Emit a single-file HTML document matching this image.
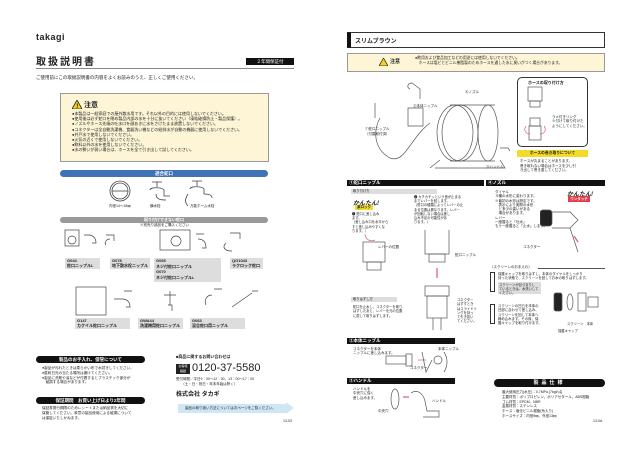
<!DOCTYPE html>
<html><head><meta charset="utf-8"><style>
*{margin:0;padding:0;box-sizing:border-box}
body{width:640px;height:452px;background:#fff;position:relative;overflow:hidden;font-family:"Liberation Sans","Noto Sans CJK JP",sans-serif;color:#222}
.a{position:absolute;white-space:nowrap}
.t{font-size:4.5px;line-height:5.6px}
.bar{position:absolute;color:#fff;font-size:4.5px;font-weight:bold;text-align:center;line-height:7px;white-space:nowrap;overflow:hidden}
.gl{position:absolute;background:#ddd;font-size:4px;line-height:5px;padding:0 2px;font-weight:bold;white-space:nowrap;overflow:hidden}
</style></head><body>
<!-- LEFT PAGE -->
<div class="a" style="left:36px;top:32px;font-size:9px;font-weight:bold;letter-spacing:0.5px">takagi</div>
<div class="a" style="left:36px;top:53px;font-size:10px;font-weight:bold;letter-spacing:2px">取扱説明書</div>
<div class="a" style="left:246px;top:58px;width:48px;height:7px;background:#111;color:#fff;font-size:4.5px;text-align:center;line-height:7px">２年間保証付</div>
<div class="a" style="left:36px;top:68px;width:258px;height:1px;background:#888"></div>
<div class="a t" style="left:36px;top:75px">ご使用前にこの取扱説明書の内容をよくお読みのうえ、正しくご使用ください。</div>
<div class="a" style="left:60px;top:93px;width:209px;height:69px;background:#fdf5d6;border:1px solid #999"></div>
<svg class="a" style="left:72px;top:100px" width="10" height="9"><polygon points="5,0 10,9 0,9" fill="#f5d020" stroke="#222" stroke-width=".8"/><text x="4.2" y="8" font-size="6" font-weight="bold">!</text></svg>
<div class="a" style="left:84px;top:100px;font-size:7px;font-weight:bold">注意</div>
<div class="a t" style="left:72px;top:111px;font-size:4px;line-height:5.2px">●本製品は一般家庭での屋外散水用です。それ以外の目的には使用しないでください。<br>●使用後は必ず蛇口を閉め製品内部の水を十分に抜いてください（凍結破損防止・製品保護）。<br>●ノズルやホース先端の吐水口を顔あきに水をさけたまま放置しないでください。<br>●コネクターは全自動洗濯機、食器洗い機などの給排水が自動の機器に使用しないでください。<br>●井戸水で使用しないでください。<br>●火気の近くで使用しないでください。<br>●飲料以外の水を使用しないでください。<br>●水の勢いが弱い場合は、ホースを全て引き出して試してください。</div>
<div class="bar" style="left:60px;top:170px;width:208px;height:7px;background:#3e73b8;border-radius:4px">適合蛇口</div>
<svg class="a" style="left:100px;top:178px" width="130" height="32" fill="none" stroke="#444" stroke-width=".8">
<circle cx="20" cy="13" r="10"/><circle cx="20" cy="13" r="8"/><line x1="12" y1="13" x2="28" y2="13"/>
<path d="M52 4h10M57 4v5M50 12c0-3 12-3 14 0v6h6M56 16c0 6 6 6 10 6"/>
<path d="M92 3h10M97 3v5M90 11c0-3 12-3 14 0v5c4 0 8 1 8 4M88 16c-4 6-2 10 0 12"/>
</svg>
<div class="a t" style="left:109px;top:204px;font-size:3.5px">内径14〜18㎜</div>
<div class="a t" style="left:150px;top:204px;font-size:3.5px">横水栓</div>
<div class="a t" style="left:190px;top:204px;font-size:3.5px">万能ホーム水栓</div>
<div class="bar" style="left:60px;top:217px;width:208px;height:6px;background:#999;border-radius:3px;line-height:6px;font-size:4px">取り付けできない蛇口</div>
<div class="a t" style="left:140px;top:223px;font-size:3.5px">※別売り部品をご購入ください</div>
<svg class="a" style="left:64px;top:229px" width="200" height="100" fill="none" stroke="#444" stroke-width=".7">
<rect x="1" y="1" width="14" height="16"/><circle cx="8" cy="11" r="4"/>
<path d="M20 6h6M24 6c6 0 8 4 8 8h-4"/><path d="M42 6h8v6M46 10c-4 0-6 4-4 6"/>
<rect x="96" y="1" width="30" height="20"/><circle cx="112" cy="12" r="5"/><path d="M132 5h8M134 10c6 0 8 4 8 9h-4"/>
<path d="M162 14c-4 4-2 8 6 8M166 4h10v6"/>
<rect x="12" y="58" width="30" height="28"/><path d="M50 70h8c6 0 8 4 8 8h-4M60 62h8"/>
<path d="M106 62v14M100 66h12M104 76h4v6"/>
<path d="M148 66c-6 0-8 6-6 10M150 60h8M168 78l20-14M188 62h6"/>
</svg>
<div class="gl" style="left:65px;top:258px;width:35px;height:11px">G044<br>蛇口ニップルL</div>
<div class="gl" style="left:110px;top:258px;width:40px;height:11px">G078<br>地下散水栓ニップル</div>
<div class="gl" style="left:154px;top:258px;width:67px;height:24px;line-height:5.6px">G065<br>ネジ付蛇口ニップル<br>G070<br>ネジ付蛇口ニップルL</div>
<div class="gl" style="left:230px;top:258px;width:33px;height:11px">QG1043<br>ラクロック蛇口</div>
<div class="gl" style="left:75px;top:318px;width:55px;height:11px">G147<br>カクイル蛇口ニップル</div>
<div class="gl" style="left:138px;top:318px;width:45px;height:11px">GWA44<br>洗濯機用蛇口ニップル</div>
<div class="gl" style="left:190px;top:318px;width:55px;height:11px">G063<br>混合蛇口用ニップル</div>
<div class="bar" style="left:36px;top:356px;width:109px;height:7px;background:#111;border-radius:4px">製品のお手入れ、保管について</div>
<div class="a t" style="left:42px;top:366px;font-size:3.6px;line-height:4.8px">●製品が汚れたときは柔らかい布で水拭きしてください。<br>●直射日光の当たる場所は避けてください。<br>●製品に洗剤や油などが付着するとプラスチック部分が<br>　破損する場合があります。</div>
<div class="bar" style="left:36px;top:397px;width:109px;height:7px;background:#111;border-radius:4px">保証期間　お買い上げ日より2年間</div>
<div class="a t" style="left:42px;top:406px;font-size:3.6px;line-height:4.8px">保証書発行期限のためレシートまたは納品書を大切に<br>保管してください。故意の製品使用による破損について<br>は保証いたしかねます。</div>
<div class="a t" style="left:176px;top:354px;font-weight:bold;font-size:4px">■商品に関するお問い合わせは</div>
<div class="a" style="left:176px;top:364px;width:14px;height:10px;background:#222;color:#fff;font-size:3px;line-height:5px;text-align:center">お客様<br>相談</div>
<div class="a" style="left:192px;top:362px;font-size:11px;line-height:13px">0120-37-5580</div>
<div class="a t" style="left:176px;top:377px;font-size:3.5px;line-height:4.5px">受付時間／平日9：00〜12：00、13：00〜17：00<br>　　（土・日・祝日・年末年始は除く）</div>
<div class="a" style="left:176px;top:389px;font-size:6px;font-weight:bold">株式会社 タカギ</div>
<div class="a" style="left:178px;top:404px;width:108px;height:9px;background:#cfe7f5"></div>
<div class="a" style="left:286px;top:402px;width:0;height:0;border-top:6px solid transparent;border-bottom:6px solid transparent;border-left:8px solid #cfe7f5"></div>
<div class="a t" style="left:185px;top:406px;font-size:3.5px">製品の取り扱い方法については次ページをご覧ください。</div>
<div class="a t" style="left:283px;top:419px;font-size:3.5px">13-03</div>
<!-- RIGHT PAGE -->
<div class="a" style="left:347px;top:32px;width:258px;height:16px;border:1px solid #333;border-left:4px solid #111"></div>
<div class="a" style="left:355px;top:36px;font-size:6px;font-weight:bold">スリムブラウン</div>
<div class="a" style="left:347px;top:53px;width:258px;height:19px;background:#fdf5d6;border:1px solid #999"></div>
<svg class="a" style="left:379px;top:58px" width="9" height="8"><polygon points="4.5,0 9,8 0,8" fill="#f5d020" stroke="#222" stroke-width=".7"/></svg>
<div class="a" style="left:390px;top:58px;font-size:5px;font-weight:bold">注意</div>
<div class="a t" style="left:415px;top:56px;font-size:3.8px;line-height:5px">●飲用および食品加工などの用途には使用しないでください。<br>　ホースは塩ビとビニル樹脂製のためホースを通した水に臭いがつく場合があります。</div>
<svg class="a" style="left:360px;top:78px" width="150" height="96" fill="none" stroke="#555" stroke-width=".7">
<path d="M15 25v15M20 40c-6 10-8 30 10 40c15 6 20-20 40-35"/>
<ellipse cx="95" cy="55" rx="18" ry="28"/><ellipse cx="100" cy="55" rx="18" ry="28"/><ellipse cx="128" cy="55" rx="10" ry="28"/>
<path d="M90 27h45M90 83h45M75 90h70l-5 -8M70 90l10-8"/><path d="M48 30h15v18h-15z"/>
<path d="M52 5l8 6v10M52 5c-4 0-6 4-2 6"/><path d="M140 70h8l4 6"/>
</svg>
<div class="a t" style="left:365px;top:127px;font-size:3.5px;line-height:4.5px">①蛇口ニップル<br>（付属取付済）</div>
<div class="a t" style="left:413px;top:104px;font-size:3.5px">②本体ニップル</div>
<div class="a t" style="left:465px;top:90px;font-size:3.5px">④ノズル</div>
<div class="a t" style="left:486px;top:165px;font-size:3.5px">③ハンドル</div>
<div class="a" style="left:517px;top:77px;width:71px;height:70px;border:1px solid #333;border-radius:5px"></div>
<div class="a t" style="left:528px;top:80px;font-weight:bold;font-size:4px">ホースの取り付け方</div>
<svg class="a" style="left:522px;top:86px" width="30" height="60" fill="none" stroke="#555" stroke-width=".7"><rect x="6" y="1" width="14" height="14"/><rect x="8" y="15" width="10" height="6"/><rect x="8" y="32" width="10" height="8"/><rect x="7" y="40" width="12" height="14"/><path d="M4 40c-3 4 0 8 4 8M22 40c3 4 0 8-4 8" stroke="#e0529a"/></svg>
<div class="a t" style="left:552px;top:115px;font-size:3.5px;line-height:4.3px">ラメ付きリング<br>※付けて取り付けた<br>ようにしてください。</div>
<div class="a" style="left:517px;top:150px;width:71px;height:7px;background:#f3dc29;font-size:3.8px;font-weight:bold;text-align:center;line-height:7px">ホースの巻き取りについて</div>
<div class="a t" style="left:520px;top:159px;font-size:3.5px;line-height:4.5px">ホースが丸まることがあります。<br>巻き取れない場合はホースを少し引<br>き出して巻き直してください。</div>
<div class="bar" style="left:347px;top:180px;width:137px;height:6px;background:#111;text-align:left;padding-left:2px;line-height:6px">①蛇口ニップル</div>
<div class="bar" style="left:486px;top:180px;width:119px;height:6px;background:#111;text-align:left;padding-left:2px;line-height:6px">④ノズル</div>
<div class="a" style="left:351px;top:189px;width:86px;height:5px;background:#ddd"></div>
<div class="a t" style="left:353px;top:189px;font-size:3.3px;line-height:5px">取り付け方</div>
<div class="a" style="left:353px;top:198px;font-size:6px;font-weight:bold;font-style:italic">かんたん!</div>
<div class="a" style="left:355px;top:205px;width:18px;height:5px;background:#f3dc29;font-size:3.5px;font-weight:bold;line-height:5px;text-align:center">楽ロック</div>
<div class="a t" style="left:352px;top:212px;font-size:3.3px;line-height:4.2px">❶ 蛇口に差し込み<br>ます。<br>（差し込み口を水平から<br>すと差し込みやすくな<br>ります。）</div>
<div class="a t" style="left:414px;top:195px;font-size:3.3px;line-height:4.2px">❷ カチカチッという音が止まる<br>までレバーを回します。<br>（蛇口の種類によってレバーの止<br>まる位置は異なります。レバー<br>が回転しない場合は差し<br>込み不足の可能性があ<br>ります。）</div>
<svg class="a" style="left:355px;top:230px" width="130" height="110" fill="none" stroke="#555" stroke-width=".7">
<rect x="8" y="12" width="22" height="20"/><rect x="12" y="32" width="14" height="8"/><path d="M10 4c0 6 6 8 10 6" stroke="#e0529a"/>
<rect x="70" y="-2" width="24" height="26"/><rect x="74" y="24" width="16" height="8"/><path d="M82 38v10" stroke="#e0529a" stroke-width="1.2"/>
<rect x="70" y="56" width="24" height="10"/><rect x="72" y="66" width="20" height="22"/><path d="M78 88v12M86 88v12"/>
</svg>
<div class="a t" style="left:378px;top:245px;font-size:3.5px">レバーの位置</div>
<div class="a t" style="left:455px;top:253px;font-size:3.5px">蛇口ニップル</div>
<div class="a" style="left:351px;top:297px;width:46px;height:5px;background:#ddd;font-size:3.3px;line-height:5px;padding-left:2px">取りはずし方</div>
<div class="a t" style="left:353px;top:305px;font-size:3.3px;line-height:4.3px">蛇口を止水し、コネクターを取り<br>はずしたあと、レバーを元の位置<br>に戻して取りはずします。</div>
<div class="a t" style="left:457px;top:298px;font-size:3.3px;line-height:4.3px">コネクター<br>はずすとき<br>はスライドリ<br>ングを持っ<br>て引き抜い<br>てください。</div>
<div class="bar" style="left:347px;top:338px;width:108px;height:6px;background:#111;text-align:left;padding-left:2px;line-height:6px">②本体ニップル</div>
<div class="a t" style="left:353px;top:347px;font-size:3.5px;line-height:4.3px">コネクターを本体<br>ニップルに差し込みます。</div>
<svg class="a" style="left:380px;top:350px" width="80" height="28" fill="none" stroke="#555" stroke-width=".7"><rect x="6" y="6" width="20" height="8"/><rect x="26" y="4" width="6" height="12"/><path d="M38 10h8" stroke="#e0529a"/><circle cx="58" cy="10" r="4"/><path d="M64 2c4 6 4 14 0 20M42 2l4 20 6-12"/></svg>
<div class="a t" style="left:410px;top:366px;font-size:3.5px">コネクター</div>
<div class="a t" style="left:438px;top:347px;font-size:3.5px">本体ニップル</div>
<div class="bar" style="left:347px;top:378px;width:108px;height:6px;background:#111;text-align:left;padding-left:2px;line-height:6px">③ハンドル</div>
<div class="a t" style="left:353px;top:387px;font-size:3.5px;line-height:4.3px">ハンドルを<br>中央穴に強く<br>差し込みます。</div>
<svg class="a" style="left:385px;top:385px" width="65" height="35" fill="none" stroke="#555" stroke-width=".7"><ellipse cx="10" cy="14" rx="4" ry="10"/><path d="M18 12h6" stroke="#e0529a" stroke-width="1.2"/><path d="M26 8c6-4 12 0 14 8l2 10h12v6h-16"/></svg>
<div class="a t" style="left:378px;top:409px;font-size:3.5px">中央穴</div>
<div class="a t" style="left:432px;top:399px;font-size:3.5px">ハンドル</div>
<div class="a t" style="left:495px;top:190px;font-size:3.5px;line-height:4.3px">ダイヤル<br>４種の水形に変わります。<br>※最初の水形は設定です。<br>　表示により実際の水形<br>　と多少の違いがある<br>　場合があります。<br>レバー<br>一度握ると「吐水」<br>もう一度握ると「止水」します。</div>
<div class="a" style="left:567px;top:189px;font-size:6px;font-weight:bold;font-style:italic">かんたん!</div>
<div class="a" style="left:568px;top:196px;width:22px;height:6px;background:#e23b4a;color:#fff;font-size:3.5px;font-weight:bold;line-height:6px;text-align:center">ワンタッチ</div>
<svg class="a" style="left:540px;top:200px" width="50" height="60" fill="none" stroke="#555" stroke-width=".7"><rect x="0" y="10" width="12" height="16" rx="3" fill="#222"/><path d="M12 12l18 0 8 8-8 8H12"/><path d="M30 28l8 24"/><path d="M34 36l4 6" stroke="#e0529a" stroke-width="1.2"/></svg>
<div class="a t" style="left:523px;top:245px;font-size:3.5px">コネクター</div>
<div class="a t" style="left:490px;top:265px;font-size:3.5px">（スクリーンのお手入れ）</div>
<div class="a" style="left:538px;top:268px;width:67px;height:.6px;background:#555"></div>
<div class="a" style="left:490px;top:272px;width:5px;height:20px;border:.7px solid #333"></div>
<div class="a t" style="left:498px;top:272px;font-size:3.4px;line-height:4.3px">保護キャップを取りはずし、本体のダイヤルをしっかり<br>持った状態で、スクリーンを回してお水の取りはずします。</div>
<div class="a" style="left:498px;top:282px;width:43px;height:12px;background:#ddd;font-size:3.3px;line-height:4px;padding:1px">スクリーンが目づまりし<br>ているときは、水洗いして<br>ください。</div>
<div class="a" style="left:490px;top:304px;width:5px;height:20px;border:.7px solid #333"></div>
<div class="a t" style="left:498px;top:304px;font-size:3.4px;line-height:4.3px">スクリーンの凹凸を本体の<br>凹部に合わせて差し込み、<br>スクリーンを回して本体へ<br>締め込みます。その後、保<br>護キャップを取り付けます。</div>
<svg class="a" style="left:552px;top:287px" width="50" height="40" fill="none" stroke="#555" stroke-width=".7"><rect x="2" y="6" width="8" height="18" rx="2" fill="#222"/><ellipse cx="18" cy="15" rx="3" ry="8"/><rect x="26" y="6" width="8" height="18"/><rect x="36" y="10" width="10" height="10"/></svg>
<div class="a t" style="left:567px;top:322px;font-size:3.3px">スクリーン　本体</div>
<div class="a t" style="left:558px;top:329px;font-size:3.3px">保護キャップ</div>
<div class="bar" style="left:494px;top:379px;width:111px;height:8px;background:#111;border-radius:4px;line-height:8px;font-size:5px;letter-spacing:3px">製品仕様</div>
<div class="a t" style="left:502px;top:390px;font-size:3.5px;line-height:4.8px">最大使用圧力(水圧)：0.7MPa {7kgf/㎠}<br>主要材質：ポリプロピレン、ポリアセタール、ABS樹脂<br>ゴム材質：EPDM、NBR<br>金属材質：ステンレス<br>ホース：塩化ビニル樹脂(糸入り)<br>ホースサイズ：内径9㎜、外径13㎜</div>
<div class="a t" style="left:593px;top:419px;font-size:3.5px">13-0A</div>
</body></html>
